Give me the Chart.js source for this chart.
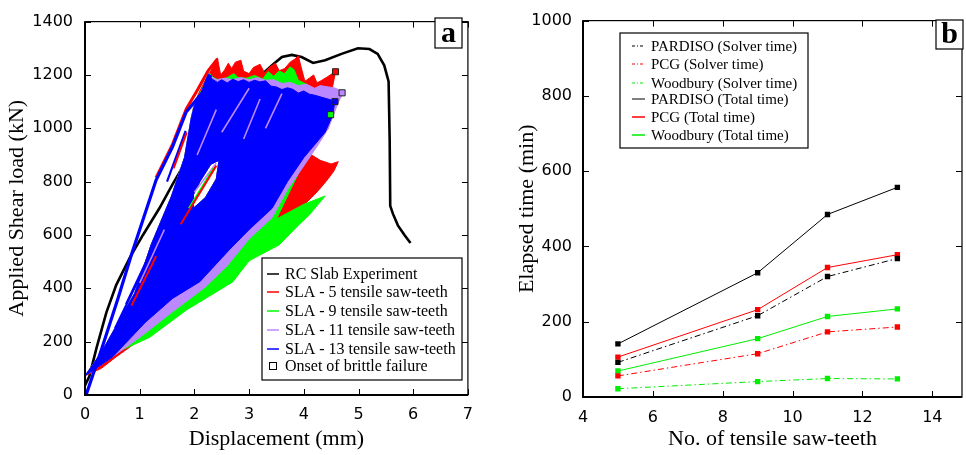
<!DOCTYPE html>
<html lang="en">
<head>
    <meta charset="UTF-8">
    <title>SLA saw-teeth: load-displacement and solver time</title>
    <script src="https://cdn.jsdelivr.net/npm/chart.js@4.4.0/dist/chart.umd.min.js"></script>
    <style>
        body { margin: 0; background: #fff; }
        #wrap { position: relative; width: 966px; height: 455px; }
        .panel { position: absolute; top: 0; width: 483px; height: 455px; }
    </style>
</head>
<body>
<div id="wrap">
    <div class="panel" style="left:0"><canvas id="loadChart"></canvas></div>
    <div class="panel" style="left:483px"><canvas id="timeChart"></canvas></div>
</div>
<script>
    // ---- panel a : load vs displacement ----
    const dispTicks = [0, 1, 2, 3, 4, 5, 6, 7];
    const loadTicks = [0, 200, 400, 600, 800, 1000, 1200, 1400];

    // RC slab experiment (mm, kN)
    const expCurve = [[0,36],[0.08,70],[0.21,176],[0.39,309],[0.57,412],[0.82,515],[1.06,600],[1.36,700],
        [1.6,790],[1.82,867],[2.3,990],[2.8,1100],[3.2,1195],[3.42,1236],[3.6,1267],[3.78,1275],[3.96,1267],
        [4.17,1245],[4.39,1255],[4.69,1279],[4.99,1300],[5.2,1297],[5.35,1279],[5.47,1236],[5.55,1176],
        [5.57,952],[5.58,709],[5.63,679],[5.72,636],[5.84,600],[5.95,570]];

    // outline of the saw-tooth fans: shared left edge and the open gap inside
    const leftLow = [[0,72],[0.3,160],[0.91,382],[1.21,564],[1.58,745]];
    const gap = [[1.98,700],[2.2,740],[2.4,810],[2.45,880],[2.3,865],[2.1,800],[1.98,750],[1.98,700],[1.58,745]];
    const leftHigh = [[1.82,891],[1.94,1036]];

    const sla5Top = [[2.0,1095],[2.1,1140],[2.2,1180],[2.3,1215],[2.37,1242],[2.42,1264],[2.45,1232],[2.48,1200],
        [2.55,1218],[2.62,1244],[2.68,1224],[2.75,1248],[2.85,1255],[2.9,1214],[3.0,1205],[3.08,1228],[3.2,1240],
        [3.28,1208],[3.38,1230],[3.48,1244],[3.55,1216],[3.65,1224],[3.75,1248],[3.84,1260],[3.9,1272],[3.95,1230],
        [4.02,1176],[4.1,1188],[4.18,1200],[4.24,1170],[4.33,1180],[4.44,1194],[4.53,1206],[4.58,1212]];
    const sla5Rest = [[4.52,1150],[4.5,1060],[4.45,1000],[4.3,965],[4.1,905],[4.3,880],[4.5,866],[4.63,875],
        [4.55,840],[4.45,812],[4.33,782],[4.2,752],[3.9,692],[3.42,640],[3.0,545],[2.0,352],[1.2,236],
        [0.55,140],[0.3,100],[0,72]];

    const sla9Top = [[2.0,1090],[2.1,1130],[2.2,1172],[2.28,1205],[2.35,1190],[2.45,1180],[2.6,1190],[2.72,1205],
        [2.8,1190],[2.95,1188],[3.1,1198],[3.25,1185],[3.35,1212],[3.45,1195],[3.55,1215],[3.65,1205],[3.75,1230],
        [3.82,1220],[3.9,1180],[4.05,1165],[4.2,1145],[4.35,1125],[4.45,1095],[4.49,1051]];
    const sla9Rest = [[4.42,1000],[4.3,962],[4.1,902],[3.95,852],[3.5,660],[4.0,715],[4.39,746],[4.09,673],
        [3.9,636],[3.55,563],[3.0,503],[2.7,424],[1.85,318],[1.18,216],[0.58,160],[0.3,115],[0,72]];

    const sla11Top = [[2.0,1088],[2.1,1125],[2.2,1165],[2.3,1195],[2.4,1182],[2.55,1188],[2.7,1182],[2.85,1190],
        [3.0,1182],[3.15,1190],[3.3,1180],[3.45,1182],[3.6,1168],[3.75,1172],[3.9,1160],[4.05,1165],[4.2,1150],
        [4.3,1160],[4.45,1155],[4.55,1152],[4.65,1144],[4.72,1133]];
    const sla11Rest = [[4.62,1092],[4.45,1000],[4.3,950],[4.03,868],[3.7,770],[3.42,665],[3.0,585],[2.6,485],
        [2.2,405],[1.6,312],[1.0,216],[0.4,128],[0,72]];

    const sla13Top = [[2.0,1085],[2.1,1120],[2.18,1165],[2.25,1205],[2.32,1185],[2.42,1172],[2.5,1182],[2.6,1170],
        [2.7,1184],[2.8,1175],[2.9,1182],[3.0,1172],[3.1,1180],[3.2,1174],[3.3,1178],[3.4,1158],[3.5,1155],
        [3.6,1145],[3.7,1152],[3.8,1146],[3.9,1132],[4.0,1140],[4.1,1128],[4.2,1124],[4.3,1118],[4.4,1112],
        [4.5,1106],[4.57,1100]];
    const sla13Rest = [[4.52,1045],[4.39,985],[4.0,890],[3.7,800],[3.42,700],[3.0,620],[2.64,545],[2.1,425],
        [1.6,362],[1.1,272],[0.5,142],[0,72]];

    // thin branches outside / inside the fans
    const sla13Branch = [[0.02,0],[0.3,170],[0.6,360],[0.85,527],[1.3,806],[1.6,930],[1.85,1061],[2.15,1135],[2.3,1200]];
    const sla5Branch = [[1.3,815],[1.6,940],[1.85,1072],[2.05,1142],[2.25,1215],[2.42,1260]];
    const sla13Streaks = [[0.55,250],[1.2,527],[0.55,null],[0.75,340],[1.35,600],[0.75,null],[1.5,800],[1.84,990]];
    const sla5Streaks = [[0.85,335],[1.3,520],[0.85,null],[1.62,850],[1.86,985],[1.62,null],[1.75,640],[2.4,860]];
    const sla9Streaks = [[1.9,700],[2.35,850]];
    const sla11Streaks = [[1.0,420],[1.45,620],[1.0,null],[2.0,760],[2.4,870],[2.0,null],[2.05,900],[2.4,1070],
        [2.05,null],[2.5,985],[3.0,1150],[2.5,null],[2.9,960],[3.2,1110],[2.9,null],[3.3,1000],[3.6,1130]];

    // onset of brittle failure
    const failure5 = [[4.58,1212]];
    const failure9 = [[4.49,1051]];
    const failure11 = [[4.70,1133]];
    const failure13 = [[4.57,1100]];

    const loadLegendLabels = ['RC Slab Experiment', 'SLA - 5 tensile saw-teeth', 'SLA - 9 tensile saw-teeth',
        'SLA - 11 tensile saw-teeth', 'SLA - 13 tensile saw-teeth', 'Onset of brittle failure'];

    // ---- panel b : elapsed time ----
    const teeth = [5, 9, 11, 13];
    const pardisoSolver = [92, 216, 320, 368];
    const pcgSolver = [56, 115, 173, 186];
    const woodburySolver = [22, 41, 49, 48];
    const pardisoTotal = [141, 330, 485, 557];
    const pcgTotal = [106, 232, 344, 378];
    const woodburyTotal = [69, 155, 214, 234];
    const teethTicks = [4, 6, 8, 10, 12, 14];
    const timeTicks = [0, 200, 400, 600, 800, 1000];
    const timeLegendLabels = ['PARDISO (Solver time)', 'PCG (Solver time)', 'Woodbury (Solver time)',
        'PARDISO (Total time)', 'PCG (Total time)', 'Woodbury (Total time)'];

    const RED = '#ff0000', GREEN = '#00ff00', PURPLE = '#bb88ff', BLUE = '#0000ff';
    const TGREEN = '#00ee00';
    const DASHDOT = [6, 3, 1.5, 3];
    const tickFont = { family: 'DejaVu Sans', size: 16 };
    const titleFont = { family: 'Liberation Serif', size: 22, lineHeight: 1.2 };

    const pts = arr => arr.map(p => ({ x: p[0], y: p[1] }));

    function region(data, color, order) {
        return { data: pts(data), borderColor: color, backgroundColor: color, borderWidth: 1,
                 fill: 'shape', pointRadius: 0, tension: 0, order: order };
    }
    function path(data, color, width, order) {
        return { data: pts(data), borderColor: color, borderWidth: width, fill: false,
                 pointRadius: 0, tension: 0, spanGaps: false, order: order };
    }
    function marker(data, color) {
        return { data: pts(data), showLine: false, pointStyle: 'rect', pointRadius: 4.3,
                 backgroundColor: color, borderColor: '#222', borderWidth: 1, order: 0 };
    }

    // frame, inward ticks, panel letter and legend box
    const panelDecor = {
        id: 'panelDecor',
        afterDraw(chart, args, o) {
            const { ctx, chartArea: a, scales: { x, y } } = chart;
            ctx.save();
            ctx.strokeStyle = '#000';
            ctx.lineWidth = 1.2;
            ctx.strokeRect(a.left, a.top, a.right - a.left, a.bottom - a.top);
            ctx.lineWidth = 2;
            ctx.beginPath();
            ctx.moveTo(a.left, a.top); ctx.lineTo(a.left, a.bottom); ctx.lineTo(a.right, a.bottom);
            ctx.stroke();
            ctx.lineWidth = 1;
            ctx.beginPath();
            x.ticks.forEach(t => {
                const px = Math.round(x.getPixelForValue(t.value)) + 0.5;
                ctx.moveTo(px, a.bottom); ctx.lineTo(px, a.bottom - 6);
                ctx.moveTo(px, a.top); ctx.lineTo(px, a.top + 6);
            });
            y.ticks.forEach(t => {
                const py = Math.round(y.getPixelForValue(t.value)) + 0.5;
                ctx.moveTo(a.left, py); ctx.lineTo(a.left + 6, py);
                ctx.moveTo(a.right, py); ctx.lineTo(a.right - 6, py);
            });
            ctx.stroke();

            // panel letter
            const [lx, ly, lw, lh] = o.letterBox;
            ctx.fillStyle = '#fff';
            ctx.fillRect(lx, ly, lw, lh);
            ctx.lineWidth = 1.2;
            ctx.strokeRect(lx, ly, lw, lh);
            ctx.fillStyle = '#000';
            ctx.font = 'bold 30px "Liberation Serif"';
            ctx.textAlign = 'center';
            ctx.textBaseline = 'middle';
            ctx.fillText(o.letter, lx + lw / 2, ly + lh / 2 + 1);

            // legend
            const lg = o.legend;
            const [bx, by, bw, bh] = lg.box;
            ctx.fillStyle = '#fff';
            ctx.fillRect(bx, by, bw, bh);
            ctx.strokeStyle = '#000';
            ctx.lineWidth = 1.2;
            ctx.strokeRect(bx, by, bw, bh);
            ctx.font = lg.font;
            ctx.textAlign = 'left';
            ctx.textBaseline = 'middle';
            lg.labels.forEach((text, i) => {
                const yy = lg.rowY[i];
                const s = lg.samples[i];
                if (s.box) {
                    ctx.strokeStyle = '#000';
                    ctx.lineWidth = 1;
                    ctx.setLineDash([]);
                    ctx.strokeRect(lg.x0 + 2.5, yy - 3.5, 7, 7);
                } else {
                    ctx.strokeStyle = s.color;
                    ctx.lineWidth = s.width;
                    ctx.setLineDash(s.dash || []);
                    ctx.beginPath();
                    ctx.moveTo(lg.x0, yy); ctx.lineTo(lg.x1, yy);
                    ctx.stroke();
                    ctx.setLineDash([]);
                }
                ctx.fillStyle = '#000';
                ctx.fillText(text, lg.textX, yy + 1);
            });
            ctx.restore();
        }
    };

    function axis(min, max, tickList, size, isX, title, pad, titlePad) {
        return {
            type: 'linear', min: min, max: max,
            afterBuildTicks: s => { s.ticks = tickList.map(v => ({ value: v })); },
            afterFit: s => { if (isX) s.height = size; else s.width = size; },
            grid: { display: false, drawTicks: false },
            border: { display: false },
            ticks: { font: tickFont, color: '#000', padding: pad, maxRotation: 0, callback: v => String(v) },
            title: { display: true, text: title, font: titleFont, color: '#000', padding: titlePad }
        };
    }

    // panel a
    new Chart(document.getElementById('loadChart'), {
        type: 'line',
        data: {
            datasets: [
                path(expCurve, '#000', 2.6, 9),
                region([].concat(leftLow, gap, leftHigh, sla5Top, sla5Rest), RED, 8),
                region([].concat(leftLow, gap, leftHigh, sla9Top, sla9Rest), GREEN, 7),
                region([].concat(leftLow, gap, leftHigh, sla11Top, sla11Rest), PURPLE, 6),
                region([].concat(leftLow, gap, leftHigh, sla13Top, sla13Rest), BLUE, 5),
                path(sla5Branch, RED, 3, 4.5),
                path(sla13Branch, BLUE, 3.2, 4),
                path(sla5Streaks, RED, 2, 3),
                path(sla9Streaks, GREEN, 2, 3),
                path(sla11Streaks, PURPLE, 1.6, 3),
                path(sla13Streaks, BLUE, 2.2, 3),
                marker(failure5, RED),
                marker(failure9, GREEN),
                marker(failure11, PURPLE),
                marker(failure13, BLUE)
            ]
        },
        options: {
            animation: false, responsive: true, maintainAspectRatio: false,
            layout: { padding: { top: 10, right: 13, left: 0, bottom: 0 } },
            scales: {
                x: axis(0, 7, dispTicks, 60, true, 'Displacement (mm)', 10, { top: 0, bottom: 3 }),
                y: axis(0, 1400, loadTicks, 85, false, 'Applied Shear load (kN)', 12, { top: 4, bottom: 0 })
            },
            plugins: {
                legend: { display: false },
                tooltip: { enabled: false },
                panelDecor: {
                    letter: 'a', letterBox: [435, 18, 27, 30],
                    legend: {
                        box: [262, 258, 200, 122], x0: 267, x1: 279, textX: 285,
                        rowY: [274, 292, 311, 330, 349, 366],
                        font: '16px "Liberation Serif"',
                        labels: loadLegendLabels,
                        samples: [{ color: '#000', width: 1.5 }, { color: RED, width: 1.5 },
                                  { color: GREEN, width: 1.5 }, { color: PURPLE, width: 1.5 },
                                  { color: BLUE, width: 1.5 }, { box: true }]
                    }
                }
            }
        },
        plugins: [panelDecor]
    });

    // panel b
    function timeSeries(values, color, dashed) {
        return { data: teeth.map((t, i) => ({ x: t, y: values[i] })), borderColor: color, backgroundColor: color,
                 borderWidth: 1, borderDash: dashed ? DASHDOT : [], pointStyle: 'rect', pointRadius: 3.8,
                 pointBorderWidth: 0, fill: false, tension: 0 };
    }

    new Chart(document.getElementById('timeChart'), {
        type: 'line',
        data: {
            datasets: [
                timeSeries(pardisoSolver, '#000', true),
                timeSeries(pcgSolver, RED, true),
                timeSeries(woodburySolver, TGREEN, true),
                timeSeries(pardisoTotal, '#000', false),
                timeSeries(pcgTotal, RED, false),
                timeSeries(woodburyTotal, TGREEN, false)
            ]
        },
        options: {
            animation: false, responsive: true, maintainAspectRatio: false,
            layout: { padding: { top: 10, right: 1, left: 0, bottom: 0 } },
            scales: {
                x: axis(4, 14.85, teethTicks, 58, true, 'No. of tensile saw-teeth', 11, { top: 0, bottom: 3 }),
                y: axis(0, 1000, timeTicks, 100, false, 'Elapsed time (min)', 11, { top: 31, bottom: 0 })
            },
            plugins: {
                legend: { display: false },
                tooltip: { enabled: false },
                panelDecor: {
                    letter: 'b', letterBox: [453, 20, 27, 29],
                    legend: {
                        box: [137, 33, 188, 115], x0: 149, x1: 162, textX: 168,
                        rowY: [46, 64, 83, 99, 117, 135],
                        font: '15px "Liberation Serif"',
                        labels: timeLegendLabels,
                        samples: [{ color: '#000', width: 1, dash: [3, 2, 1, 2] },
                                  { color: RED, width: 1, dash: [3, 2, 1, 2] },
                                  { color: TGREEN, width: 1, dash: [3, 2, 1, 2] },
                                  { color: '#555', width: 1.5 }, { color: RED, width: 1.5 },
                                  { color: TGREEN, width: 1.5 }]
                    }
                }
            }
        },
        plugins: [panelDecor]
    });
</script>
</body>
</html>
